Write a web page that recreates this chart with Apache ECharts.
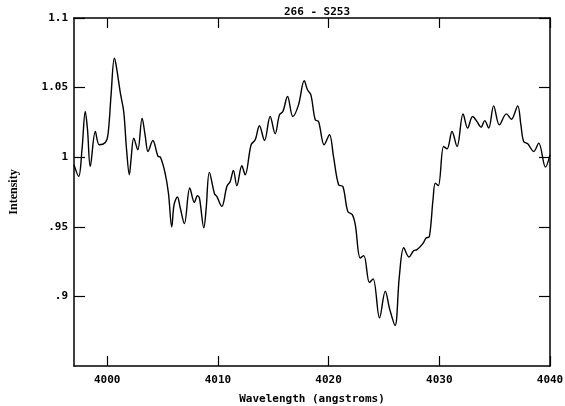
<!DOCTYPE html>
<html>
<head>
<meta charset="utf-8">
<script src="https://cdn.jsdelivr.net/npm/echarts@6/dist/echarts.min.js"></script>
<style>
html,body{margin:0;padding:0;background:#fff;}
#c{width:565px;height:406px;}
</style>
</head>
<body>
<div id="c"></div>
<script>
const wavelength = [
3997.0,3997.42,3997.72,3998.02,3998.22,3998.47,3998.93,3999.29,3999.83,4000.07,
4000.35,4000.64,4000.80,4001.19,4001.49,4001.75,4002.0,4002.15,4002.40,4002.76,
4003.15,4003.42,4003.69,4004.12,4004.59,4004.80,4005.23,4005.53,4005.83,4006.04,
4006.34,4006.60,4006.97,4007.46,4007.88,4008.15,4008.33,4008.73,4008.93,4009.23,
4009.69,4009.90,4010.35,4010.81,4011.11,4011.40,4011.71,4012.16,4012.46,4013.00,
4013.37,4013.75,4014.21,4014.72,4015.17,4015.56,4015.87,4016.29,4016.77,4017.28,
4017.80,4018.09,4018.40,4018.79,4019.09,4019.60,4020.08,4020.44,4020.90,4021.29,
4021.73,4022.14,4022.41,4022.86,4023.18,4023.69,4024.02,4024.60,4025.12,4025.53,
4026.0,4026.39,4026.79,4027.26,4027.68,4027.99,4028.51,4028.81,4029.10,4029.43,
4029.64,4029.91,4030.39,4030.70,4031.15,4031.60,4032.15,4032.56,4033.01,4033.35,
4033.77,4034.10,4034.46,4034.91,4035.43,4036.06,4036.51,4037.08,4037.37,4037.62,
4037.99,4038.53,4038.98,4039.59,4040.0
];
const intensity = [
0.9946,0.9862,1.0053,1.0328,1.0197,0.9934,1.0185,1.0089,1.0106,1.0161,
1.0448,1.0711,1.0663,1.0460,1.0328,1.0053,0.9874,0.9982,1.0137,1.0053,
1.0281,1.0161,1.0041,1.0120,1.0006,1.0001,0.9886,0.9743,0.9499,0.9659,
0.9714,0.9635,0.9523,0.9779,0.9675,0.9723,0.9707,0.9492,0.9623,0.9891,
0.9738,0.9718,0.9647,0.9790,0.9826,0.9905,0.9795,0.9939,0.9874,1.0089,
1.0125,1.0226,1.0120,1.0292,1.0168,1.0304,1.0328,1.0436,1.0292,1.0376,
1.0550,1.0484,1.0448,1.0269,1.0256,1.0089,1.0161,1.0006,0.9802,0.9790,
0.9611,0.9587,0.9515,0.9276,0.9293,0.9100,0.9126,0.8846,0.9037,0.8905,
0.8791,0.9144,0.9350,0.9283,0.9328,0.9336,0.9379,0.9420,0.9429,0.9694,
0.9814,0.9795,1.0077,1.0060,1.0185,1.0077,1.0311,1.0209,1.0292,1.0263,
1.0216,1.0263,1.0209,1.0369,1.0232,1.0311,1.0273,1.0369,1.0232,1.0113,
1.0096,1.0041,1.0101,0.9929,1.0017
];
const xTicks = [4000, 4010, 4020, 4030, 4040];
const yTicks = [0.9, 0.95, 1, 1.05, 1.1];
const yTickLabels = {"0.9": ".9", "0.95": ".95", "1": "1", "1.05": "1.05", "1.1": "1.1"};
const titleText = "266 - S253";
const xName = "Wavelength (angstroms)";
const yName = "Intensity";

const chart = echarts.init(document.getElementById('c'), null, {renderer: 'canvas'});
const font = '"DejaVu Sans Mono", monospace';
const axisLine = {show: true, onZero: false, lineStyle: {color: '#000', width: 1.5}};
const tick = {show: true, inside: true, length: 11, lineStyle: {color: '#000', width: 1.2}};
chart.setOption({
  animation: false,
  backgroundColor: '#fff',
  title: {
    text: titleText, left: 312, top: 2, textAlign: 'center',
    textStyle: {fontFamily: font, fontWeight: 'bold', fontSize: 11, color: '#000'}
  },
  grid: {left: 74, right: 15, top: 18, bottom: 40, containLabel: false, outerBoundsMode: 'none'},
  xAxis: [{
    type: 'value', min: 3997, max: 4040, position: 'bottom',
    name: xName, nameLocation: 'middle', nameGap: 28,
    nameTextStyle: {fontFamily: font, fontWeight: 'bold', fontSize: 11, color: '#000'},
    axisLine: axisLine,
    axisTick: Object.assign({}, tick, {customValues: xTicks, length: 10}),
    axisLabel: {customValues: xTicks, margin: 9, fontFamily: font, fontWeight: 'bold', fontSize: 11, color: '#000',
      formatter: v => String(Math.round(v))},
    splitLine: {show: false}
  }, {
    type: 'value', min: 3997, max: 4040, position: 'top',
    axisLine: axisLine,
    axisTick: Object.assign({}, tick, {customValues: xTicks, length: 10}),
    axisLabel: {show: false},
    splitLine: {show: false}
  }],
  yAxis: [{
    type: 'value', min: 0.85, max: 1.1, position: 'left',
    name: yName, nameLocation: 'middle', nameGap: 54, nameRotate: 90,
    nameTextStyle: {fontFamily: '"Liberation Serif", serif', fontWeight: 'bold', fontSize: 12, color: '#000'},
    axisLine: axisLine,
    axisTick: Object.assign({}, tick, {customValues: yTicks}),
    axisLabel: {customValues: yTicks, margin: 6, fontFamily: font, fontWeight: 'bold', fontSize: 11, color: '#000',
      formatter: v => yTickLabels[String(+v.toFixed(2))] || ''},
    splitLine: {show: false}
  }, {
    type: 'value', min: 0.85, max: 1.1, position: 'right',
    axisLine: axisLine,
    axisTick: Object.assign({}, tick, {customValues: yTicks}),
    axisLabel: {show: false},
    splitLine: {show: false}
  }],
  series: [{
    type: 'line',
    data: wavelength.map((w, i) => [w, intensity[i]]),
    showSymbol: false,
    smooth: 0.35,
    lineStyle: {color: '#000', width: 1.4},
    clip: true
  }]
});
</script>
</body>
</html>
